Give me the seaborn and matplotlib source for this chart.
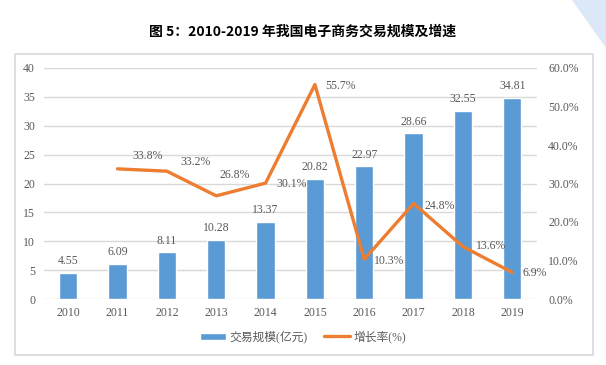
import numpy as np
import pandas as pd
import seaborn as sns
import matplotlib.pyplot as plt
from matplotlib.patches import Rectangle, Polygon

YEARS = ['2010', '2011', '2012', '2013', '2014', '2015', '2016', '2017', '2018', '2019']
SCALE = [4.55, 6.09, 8.11, 10.28, 13.37, 20.82, 22.97, 28.66, 32.55, 34.81]
GROWTH = [np.nan, 33.8, 33.2, 26.8, 30.1, 55.7, 10.3, 24.8, 13.6, 6.9]

# label nudges (pixels) for the growth-rate labels
LBL_DX = [0, 15, 14, 3, 11, 10, 10, 11, 13, 10]
LBL_DY = [0, 13, 9, 21, -1, -1, -2, -2, 1, -1]

sns.set_theme(style='white')
plt.rcParams['font.family'] = ['Liberation Serif', 'Noto Sans CJK SC']

BLUE = '#5B9BD5'
ORANGE = '#ED7D31'
GREY = '#595959'

df = pd.DataFrame({'year': YEARS, 'scale': SCALE, 'growth': GROWTH})
df['pos'] = np.arange(len(df))

fig = plt.figure(figsize=(6.06, 3.65), dpi=100)
fig.patches.append(Rectangle((15 / 606, 1 - 355 / 365), 578 / 606, 301 / 365,
                             transform=fig.transFigure, fill=False,
                             edgecolor='#D9D9D9', linewidth=1.2))
fig.patches.append(Polygon([[572 / 606, 1], [1, 1], [1, 1 - 48 / 365]], closed=True,
                           transform=fig.transFigure, facecolor='#DCE8F7', edgecolor='none'))

ax = fig.add_axes([43.5 / 606, 1 - 299 / 365, 493.5 / 606, 231 / 365])
sns.barplot(data=df, x='year', y='scale', color=BLUE, width=0.37, saturation=1,
            ax=ax, label='交易规模(亿元)')
if ax.get_legend() is not None:
    ax.get_legend().remove()
ax.set_ylim(0, 40)
ax.set_yticks(range(0, 41, 5))
ax.yaxis.grid(True, color='#D9D9D9', linewidth=1)
ax.set_axisbelow(True)
ax.set_xlabel('')
ax.set_ylabel('')
for s in ax.spines.values():
    s.set_visible(False)
ax.tick_params(axis='both', colors=GREY, labelsize=8.5, length=0, pad=6)
ax.set_xlim(-0.5, len(YEARS) - 0.5)
for i, v in enumerate(SCALE):
    ax.annotate(f'{v:.2f}', (i, v), xytext=(0, 4), textcoords='offset points',
                ha='center', va='bottom', fontsize=8.5, color=GREY)

ax2 = ax.twinx()
sns.lineplot(data=df, x='pos', y='growth', color=ORANGE, linewidth=2.4, ax=ax2,
             label='增长率(%)', legend=False)
ax2.set_ylim(0, 60)
ax2.set_yticks(range(0, 61, 10))
ax2.set_yticklabels([f'{t:.1f}%' for t in range(0, 61, 10)])
ax2.set_ylabel('')
ax2.set_xlabel('')
ax2.set_xlim(-0.5, len(YEARS) - 0.5)
for s in ax2.spines.values():
    s.set_visible(False)
ax2.tick_params(axis='y', colors=GREY, labelsize=8.5, length=0, pad=8)
for i, v in enumerate(GROWTH):
    if np.isnan(v):
        continue
    ax2.annotate(f'{v:.1f}%', (i, v), xytext=(LBL_DX[i] * 0.72, LBL_DY[i] * 0.72),
                 textcoords='offset points', ha='left', va='center',
                 fontsize=8.5, color=GREY)

h1, l1 = ax.get_legend_handles_labels()
h2, l2 = ax2.get_legend_handles_labels()
fig.legend(h1 + h2, l1 + l2, loc='center', bbox_to_anchor=(0.5, 1 - 337 / 365),
           ncol=2, frameon=False, fontsize=8.5, labelcolor=GREY,
           handlelength=2.2, handleheight=0.6, columnspacing=1.4, handletextpad=0.3)

fig.text(0.5, 1 - 32 / 365, '图 5：2010-2019 年我国电子商务交易规模及增速',
         ha='center', va='center', fontsize=10, fontweight='bold',
         family=['Noto Sans CJK SC', 'DejaVu Sans'], color='black')

fig.savefig('out.png', dpi=100)
